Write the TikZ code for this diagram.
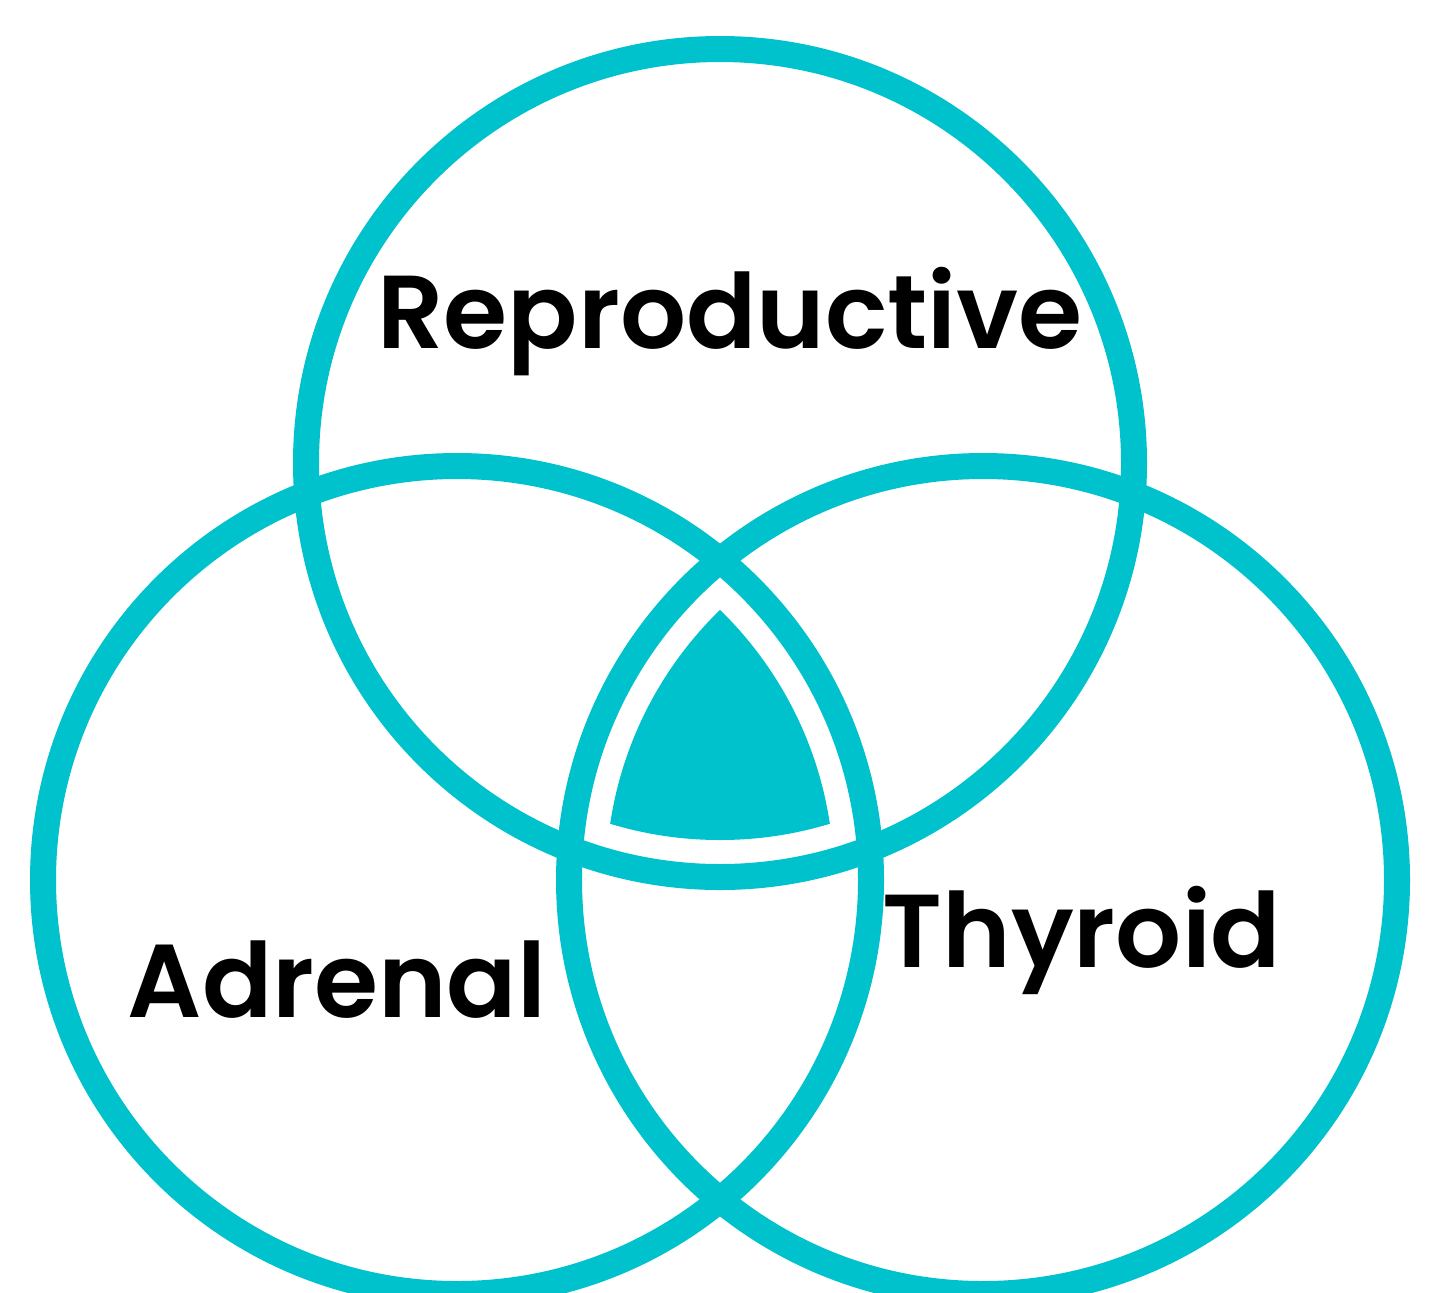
\documentclass[tikz,border=0pt]{standalone}
\usepackage{fontspec}
\setmainfont{Poppins}[BoldFont={Poppins SemiBold}]
\usepackage{xcolor}
\usepackage{tikz}
\usetikzlibrary{positioning, calc}
\definecolor{venncyan}{RGB}{0,194,204}
\tikzset{
    ring/.style={draw=venncyan, line width=0.26cm},
    core/.style={fill=venncyan},
    label/.style={anchor=base, font=\fontsize{29.5}{34}\selectfont\bfseries, text=black}
}

\begin{document}
\begin{tikzpicture}
    % Frame
    \clip (0,0) rectangle (14.3,12.92);

    % Circle centres
    \coordinate (top) at (7.20,8.29);
    \coordinate (left) at (4.57,4.12);
    \coordinate (right) at (9.83,4.12);

    % Common part
    \begin{scope}
        \clip (left) circle (3.77);
        \clip (right) circle (3.77);
        \fill[core] (top) circle (3.77);
    \end{scope}

    % Rings
    \foreach \c in {top,left,right}
        \draw[ring] (\c) circle (4.14);

    % Labels
    \node[label] (repro) at (7.30,9.44) {Reproductive};
    \node[label] (adrenal) at (3.37,2.75) {Adrenal};
    \node[label] (thyroid) at (10.82,3.25) {Thyroid};
\end{tikzpicture}
\end{document}
